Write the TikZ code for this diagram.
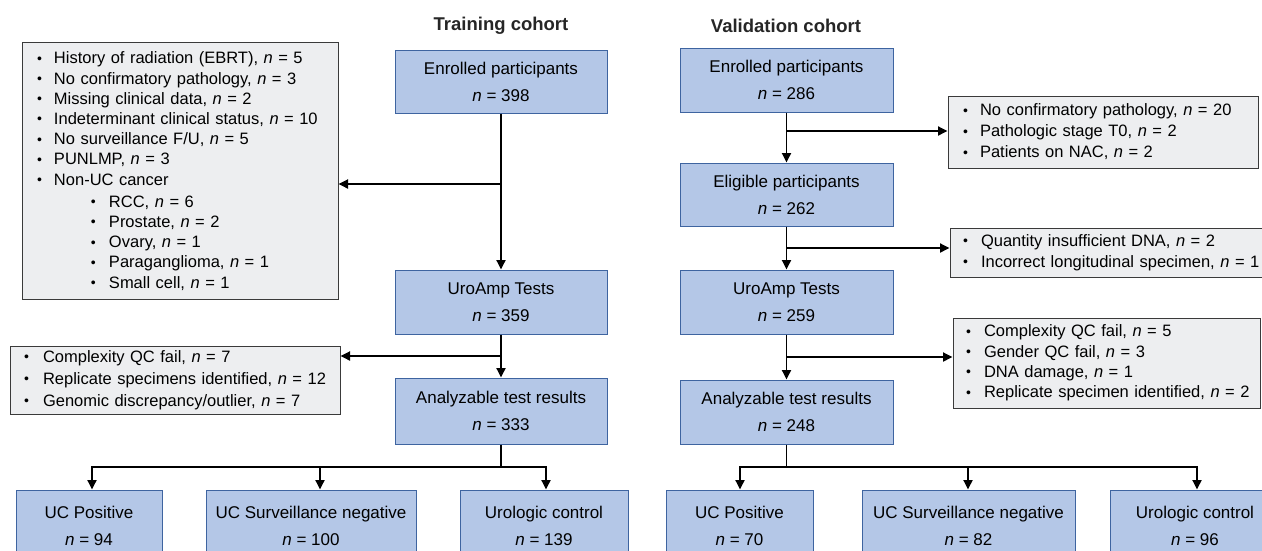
\documentclass[tikz,border=0pt]{standalone}
\usepackage{fontspec}
\setmainfont{Liberation Sans}
\usetikzlibrary{arrows.meta}
\definecolor{boxblue}{HTML}{B4C7E7}
\definecolor{boxblueline}{HTML}{3E64A0}
\definecolor{greyfill}{HTML}{EDEEF0}
\definecolor{greyline}{HTML}{3A3A3A}
\newcommand\bdot{\raisebox{0.5pt}{\fontsize{14}{14}\selectfont •}}
\newcommand\bul[1]{\makebox[17pt][l]{\bdot}\mbox{#1}}
\newcommand\bulw[2]{\makebox[#1][l]{\bdot}\mbox{#2}}
\newcommand\subbul[1]{\hspace*{54pt}\makebox[18pt][l]{\bdot}\mbox{#1}}
\newcommand\nn{\textit{n}}
\begin{document}
\begin{tikzpicture}[x=1pt,y=-1pt,
  bluebox/.style={draw=boxblueline,fill=boxblue,line width=1pt,align=center,inner sep=0pt,
    font=\fontsize{17}{27}\selectfont},
  greybox/.style={draw=greyline,fill=greyfill,line width=1pt,align=left,inner ysep=0pt,
    font=\fontsize{16.5}{20.2}\selectfont},
  title/.style={font=\fontsize{18.5}{22}\selectfont\bfseries,text=black!85},
  conn/.style={line width=1.8pt,black},
  arr/.style={conn,-{Triangle[length=9.5pt,width=9pt]}}]
\useasboundingbox (0,0) rectangle (1262,550);
\clip (0,0) rectangle (1262,550);

% titles
\node[title] (tT) at (501,26) {Training cohort};
\node[title] (tV) at (786,26) {Validation cohort};

% ---------- Training cohort ----------
\node[bluebox,minimum width=212,minimum height=63] (enT) at (501,81.5)
  {Enrolled participants\\ \nn{} = 398};
\node[bluebox,minimum width=212,minimum height=64] (uaT) at (501,302)
  {UroAmp Tests\\ \nn{} = 359};
\node[bluebox,minimum width=212,minimum height=66] (anT) at (501,411)
  {Analyzable test results\\ \nn{} = 333};

\node[greybox,inner xsep=15pt,text width=286pt,minimum height=257] (L1) at (180,171)
  {\bul{History of radiation (EBRT), \nn{} = 5}\\
   \bul{No confirmatory pathology, \nn{} = 3}\\
   \bul{Missing clinical data, \nn{} = 2}\\
   \bul{Indeterminant clinical status, \nn{} = 10}\\
   \bul{No surveillance F/U, \nn{} = 5}\\
   \bul{PUNLMP, \nn{} = 3}\\
   \bul{Non-UC cancer}\\[2pt]
   \subbul{RCC, \nn{} = 6}\\
   \subbul{Prostate, \nn{} = 2}\\
   \subbul{Ovary, \nn{} = 1}\\
   \subbul{Paraganglioma, \nn{} = 1}\\
   \subbul{Small cell, \nn{} = 1}};

\node[greybox,inner xsep=14pt,text width=302pt,minimum height=68,
  font=\fontsize{16.5}{22}\selectfont] (L2) at (175,380)
  {\bulw{19pt}{Complexity QC fail, \nn{} = 7}\\
   \bulw{19pt}{Replicate specimens identified, \nn{} = 12}\\
   \bulw{19pt}{Genomic discrepancy/outlier, \nn{} = 7}};

\node[bluebox,minimum width=146,minimum height=72] (pT) at (89,526)
  {UC Positive\\ \nn{} = 94};
\node[bluebox,minimum width=210,minimum height=72] (sT) at (311,526)
  {UC Surveillance negative\\ \nn{} = 100};
\node[bluebox,minimum width=168,minimum height=72] (cT) at (544,526)
  {Urologic control\\ \nn{} = 139};

\coordinate (bT1) at (501,184);
\coordinate (bT2) at (501,356);
\draw[arr] (enT.south) -- (uaT.north);
\draw[arr] (bT1) -- (bT1 -| L1.east);
\draw[arr] (uaT.south) -- (anT.north);
\draw[arr] (bT2) -- (bT2 -| L2.east);

\coordinate (busT) at (501,467);
\coordinate (dT1) at (92,467);
\coordinate (dT2) at (320,467);
\coordinate (dT3) at (546,467);
\draw[conn] (anT.south) -- (busT);
\draw[conn] ([xshift=-0.9pt]dT1) -- ([xshift=0.9pt]dT3);
\draw[arr] (dT1) -- (dT1 |- pT.north);
\draw[arr] (dT2) -- (dT2 |- sT.north);
\draw[arr] (dT3) -- (dT3 |- cT.north);

% ---------- Validation cohort ----------
\node[bluebox,minimum width=213,minimum height=64] (enV) at (786.5,80)
  {Enrolled participants\\ \nn{} = 286};
\node[bluebox,minimum width=213,minimum height=63] (elV) at (786.5,194.5)
  {Eligible participants\\ \nn{} = 262};
\node[bluebox,minimum width=213,minimum height=64] (uaV) at (786.5,302)
  {UroAmp Tests\\ \nn{} = 259};
\node[bluebox,minimum width=213,minimum height=64] (anV) at (786.5,412)
  {Analyzable test results\\ \nn{} = 248};

\node[greybox,inner xsep=15pt,text width=280pt,minimum height=72,
  font=\fontsize{16.5}{21}\selectfont] (V1) at (1103,132)
  {\bul{No confirmatory pathology, \nn{} = 20}\\
   \bul{Pathologic stage T0, \nn{} = 2}\\
   \bul{Patients on NAC, \nn{} = 2}};
\node[greybox,inner xsep=13pt,text width=294pt,minimum height=49,
  font=\fontsize{16.5}{21}\selectfont] (V2) at (1110,252.5)
  {\bulw{18pt}{Quantity insufficient DNA, \nn{} = 2}\\
   \bulw{18pt}{Incorrect longitudinal specimen, \nn{} = 1}};
\node[greybox,inner xsep=13pt,text width=281pt,minimum height=90,
  font=\fontsize{16.5}{20.3}\selectfont] (V3) at (1106.5,363)
  {\bulw{18pt}{Complexity QC fail, \nn{} = 5}\\
   \bulw{18pt}{Gender QC fail, \nn{} = 3}\\
   \bulw{18pt}{DNA damage, \nn{} = 1}\\
   \bulw{18pt}{Replicate specimen identified, \nn{} = 2}};

\node[bluebox,minimum width=147,minimum height=72] (pV) at (739.5,526)
  {UC Positive\\ \nn{} = 70};
\node[bluebox,minimum width=213,minimum height=72] (sV) at (968.5,526)
  {UC Surveillance negative\\ \nn{} = 82};
\node[bluebox,minimum width=170,minimum height=72] (cV) at (1195,526)
  {Urologic control\\ \nn{} = 96};

\coordinate (bV1) at (786.5,131);
\coordinate (bV2) at (786.5,248);
\coordinate (bV3) at (786.5,357);
\draw[arr] (enV.south) -- (elV.north);
\draw[arr] (bV1) -- (bV1 -| V1.west);
\draw[arr] (elV.south) -- (uaV.north);
\draw[arr] (bV2) -- (bV2 -| V2.west);
\draw[arr] (uaV.south) -- (anV.north);
\draw[arr] (bV3) -- (bV3 -| V3.west);

\coordinate (busV) at (786.5,467);
\coordinate (dV1) at (740,467);
\coordinate (dV2) at (968,467);
\coordinate (dV3) at (1197,467);
\draw[conn] (anV.south) -- (busV);
\draw[conn] ([xshift=-0.9pt]dV1) -- ([xshift=0.9pt]dV3);
\draw[arr] (dV1) -- (dV1 |- pV.north);
\draw[arr] (dV2) -- (dV2 |- sV.north);
\draw[arr] (dV3) -- (dV3 |- cV.north);
\end{tikzpicture}
\end{document}
